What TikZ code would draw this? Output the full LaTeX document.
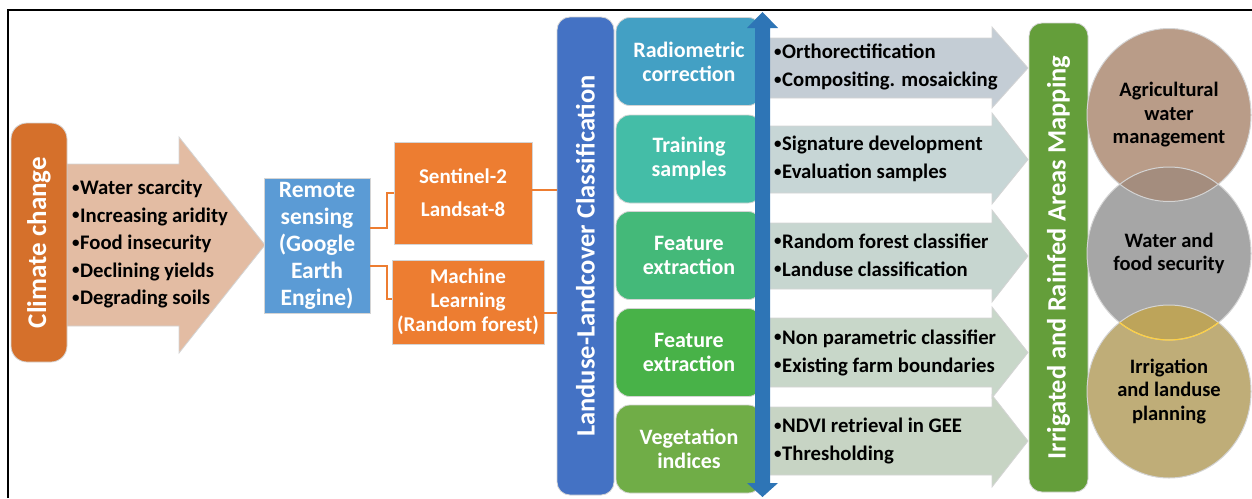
\documentclass[tikz,border=0pt]{standalone}
\usepackage{fontspec}
\setmainfont{Carlito}
\usetikzlibrary{shapes.geometric}

\definecolor{ccorange}{RGB}{213,112,43}
\definecolor{peach}{RGB}{227,188,163}
\definecolor{rsblue}{RGB}{91,155,213}
\definecolor{orangebox}{RGB}{237,125,49}
\definecolor{lulcblue}{RGB}{68,114,196}
\definecolor{stepA}{RGB}{67,160,196}
\definecolor{stepB}{RGB}{68,189,167}
\definecolor{stepC}{RGB}{68,185,121}
\definecolor{stepD}{RGB}{72,178,72}
\definecolor{stepE}{RGB}{112,173,71}
\definecolor{dblblue}{RGB}{46,117,182}
\definecolor{grayA}{RGB}{196,205,213}
\definecolor{grayB}{RGB}{199,214,214}
\definecolor{grayC}{RGB}{199,214,208}
\definecolor{grayD}{RGB}{200,215,201}
\definecolor{grayE}{RGB}{199,212,196}
\definecolor{mapgreen}{RGB}{100,158,58}
\definecolor{circA}{RGB}{185,156,136}
\definecolor{circB}{RGB}{166,166,166}
\definecolor{circC}{RGB}{191,173,120}
\definecolor{lensAB}{RGB}{164,141,126}
\definecolor{lensBC}{RGB}{189,164,90}
\definecolor{lensline}{RGB}{255,208,64}
\definecolor{edgegray}{RGB}{212,212,212}

% small list bullet
\newcommand{\bul}{\raisebox{0.12em}{\fontsize{15}{15}\selectfont•}\kern0.5pt}

\tikzset{
  box/.style={draw=edgegray, line width=0.8pt, inner sep=0pt, align=center,
    text=white, font=\bfseries},
  steptile/.style={box, rounded corners=14pt, minimum width=146pt, minimum height=88pt,
    font=\fontsize{22}{24}\selectfont\bfseries},
  vbar/.style={box, rotate=90, rounded corners=13pt,
    font=\fontsize{26.5}{28}\selectfont\bfseries},
  conn/.style={draw=orangebox, line width=2pt},
  blockarrow/.style={draw=edgegray, line width=0.8pt},
  bullets/.style={anchor=west, align=left, inner sep=0pt,
    font=\fontsize{20.7}{28}\selectfont\bfseries},
  circ/.style={ellipse, inner sep=0pt, minimum width=164pt, minimum height=173pt,
    align=center, font=\fontsize{20.5}{23.5}\selectfont\bfseries}
}

\begin{document}
\begin{tikzpicture}[x=1pt,y=-1pt]
\useasboundingbox (0,0) rectangle (1252,498);

% frame
\draw[line width=1.5pt] (8,498) -- (8,10) -- (1252,10);

% drivers of change
\draw[blockarrow, fill=peach] (67,164) -- (179,164) -- (179,137) -- (265,245)
  -- (179,353) -- (179,326) -- (67,326) -- cycle;
\node[box, fill=ccorange, rotate=90, rounded corners=16pt, minimum width=239pt,
  minimum height=56pt, font=\fontsize{27}{28}\selectfont\bfseries]
  (climate) at (39,242.5) {Climate change};
\node[bullets, font=\fontsize{20.7}{27.5}\selectfont\bfseries] (impacts) at (72,244)
  {\bul Water scarcity\\\bul Increasing aridity\\\bul Food insecurity\\\bul Declining yields\\\bul Degrading soils};

% remote sensing and inputs
\node[box, fill=rsblue, minimum width=106pt, minimum height=135pt,
  font=\fontsize{23.5}{27}\selectfont\bfseries] (rs) at (317,245.5)
  {Remote\\sensing\\(Google\\Earth\\Engine)};
\node[box, fill=orangebox, minimum width=138pt, minimum height=102pt,
  font=\fontsize{21}{33}\selectfont\bfseries] (sent) at (463,193)
  {Sentinel-2\\Landsat-8};
\node[box, fill=orangebox, minimum width=152pt, minimum height=84pt,
  font=\fontsize{21}{24}\selectfont\bfseries] (ml) at (468,302)
  {Machine\\Learning\\(Random forest)};

% classification bar (rotated: its north side faces left)
\node[vbar, fill=lulcblue, minimum width=478pt, minimum height=57pt]
  (lulc) at (585.5,256) {Landuse-Landcover Classification};

\draw[conn] ([yshift=18pt]rs.east) -- ++(17pt,0) |- (sent.west);
\draw[conn] ([yshift=-20pt]rs.east) -- ++(17pt,0) |- ([yshift=3pt]ml.west);
\draw[conn] ([yshift=3pt]sent.east) -- ([yshift=3pt]sent.east -| lulc.north);
\draw[conn] ([yshift=-11pt]ml.east) -- ([yshift=-11pt]ml.east -| lulc.north);

% processing steps
\node[steptile, fill=stepA] (s1) at (689,61.5) {Radiometric\\correction};
\node[steptile, fill=stepB] (s2) at (689,159) {Training\\samples};
\node[steptile, fill=stepC] (s3) at (689,255.5) {Feature\\extraction};
\node[steptile, fill=stepD] (s4) at (689,352.5) {Feature\\extraction};
\node[steptile, fill=stepE] (s5) at (689,449) {Vegetation\\indices};

% output arrows with step details
\foreach \bt/\bb/\ht/\hb/\ty/\col in
  {38/98/27/108/68/grayA, 126/193/113/204/159.5/grayB, 223/289/210/302/256/grayC,
   318/387/307/398/352.5/grayD, 407/475/395/487/441/grayE}{
  \draw[blockarrow, fill=\col] (770,\bt) -- (992,\bt) -- (992,\ht) -- (1028,\ty)
    -- (992,\hb) -- (992,\bb) -- (770,\bb) -- cycle;
}
\node[bullets] (d1) at (774,67) {\bul Orthorectification\\\bul Compositing. mosaicking};
\node[bullets] (d2) at (774,159) {\bul Signature development\\\bul Evaluation samples};
\node[bullets] (d3) at (774,255) {\bul Random forest classifier\\\bul Landuse classification};
\node[bullets] (d4) at (774,352.5) {\bul Non parametric classifier\\\bul Existing farm boundaries};
\node[bullets] (d5) at (774,441) {\bul NDVI retrieval in GEE\\\bul Thresholding};

% double-headed flow arrow
\fill[dblblue] (755,28) -- (747,28) -- (762.5,12) -- (778,28) -- (770,28)
  -- (770,483) -- (778,483) -- (762.5,497) -- (747,483) -- (755,483) -- cycle;

% mapping bar
\node[vbar, fill=mapgreen, minimum width=469pt, minimum height=59pt]
  (map) at (1058.5,257.5) {Irrigated and Rainfed Areas Mapping};

% outcomes
\node[circ, fill=circA] (c1) at (1169,115) {Agricultural\\water\\management};
\node[circ, fill=circB] (c2) at (1169,253.5) {Water and\\food security};
\node[circ, fill=circC] (c3) at (1169,391.5) {Irrigation\\and landuse\\planning};
\begin{scope}
  \clip (c1.center) ellipse [x radius=82pt, y radius=86.5pt];
  \fill[lensAB] (c2.center) ellipse [x radius=82pt, y radius=86.5pt];
\end{scope}
\begin{scope}
  \clip (c3.center) ellipse [x radius=82pt, y radius=86.5pt];
  \fill[lensBC] (c2.center) ellipse [x radius=82pt, y radius=86.5pt];
\end{scope}
\foreach \c in {c1,c2,c3}
  \draw[edgegray, line width=1pt] (\c.center) ellipse [x radius=82pt, y radius=86.5pt];
\begin{scope}
  \clip (c3.center) ellipse [x radius=82pt, y radius=86.5pt];
  \draw[lensline, line width=1.2pt] (c2.center) ellipse [x radius=82pt, y radius=86.5pt];
\end{scope}
\end{tikzpicture}
\end{document}
